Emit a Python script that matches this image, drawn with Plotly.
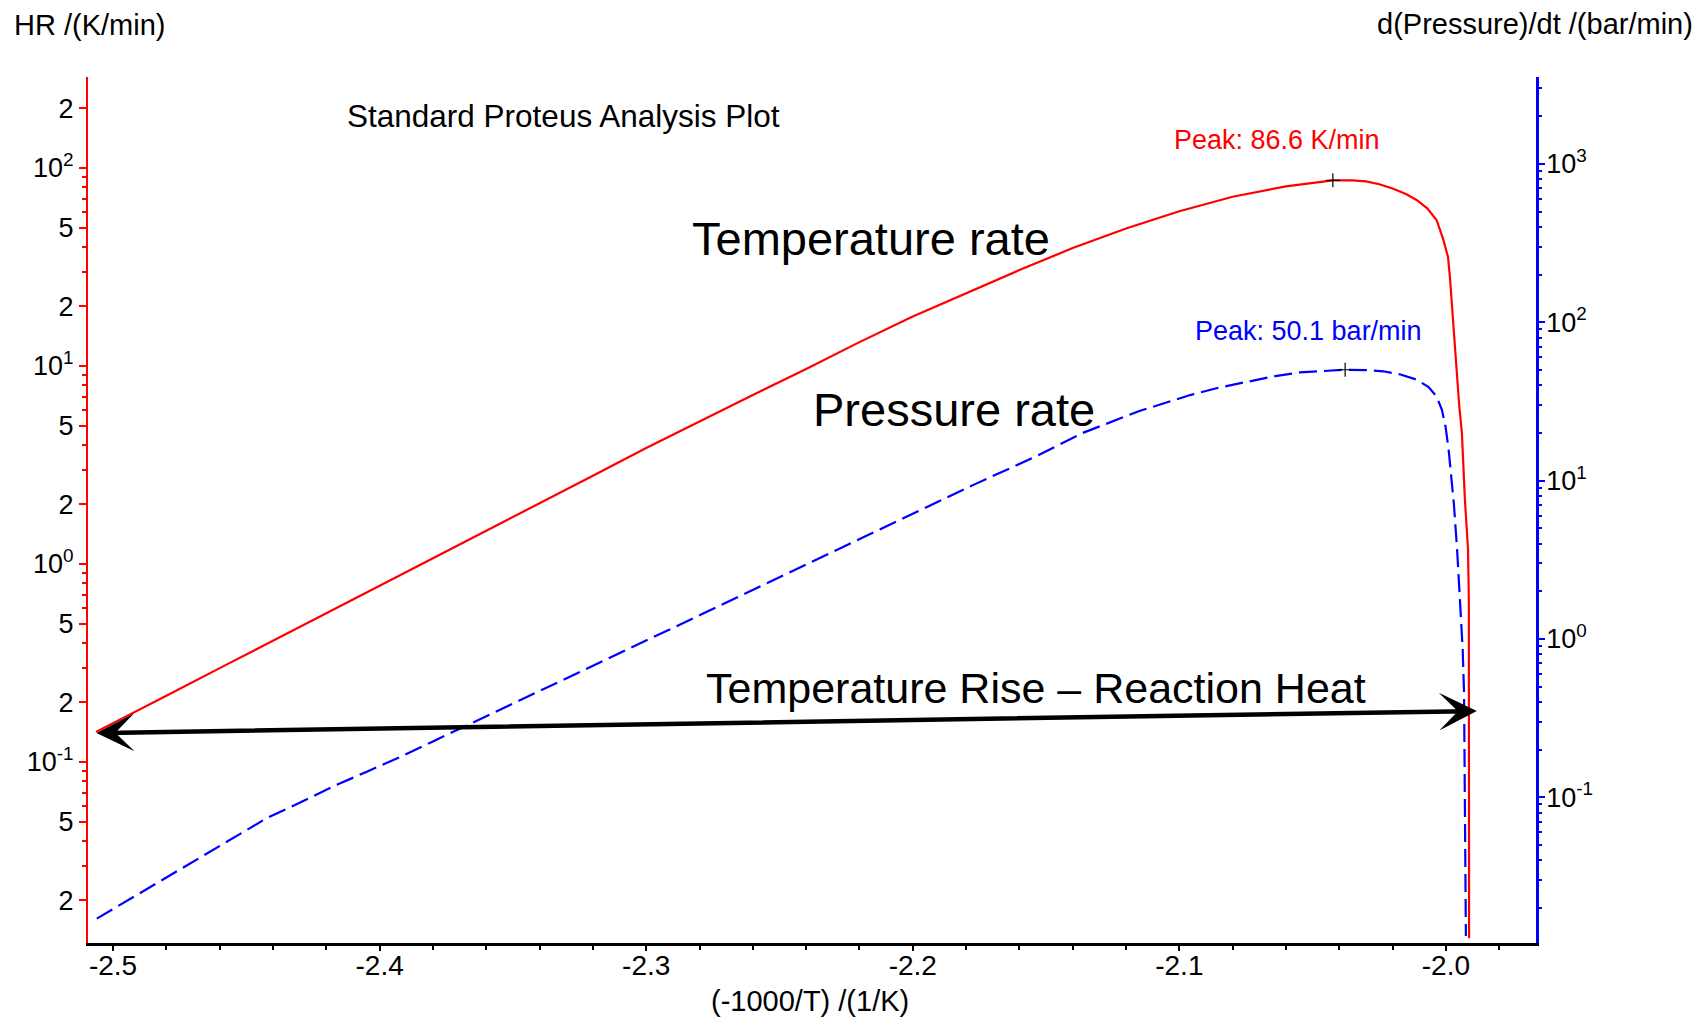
import math
import plotly.graph_objects as go

# ---- data -------------------------------------------------------------
# temperature rate (heat rate, K/min) versus -1000/T
inv_temp_hr = [-2.5064, -2.5000, -2.4800, -2.4600, -2.4400, -2.4200, -2.4000,
               -2.3800, -2.3600, -2.3400, -2.3200, -2.3000, -2.2800, -2.2600,
               -2.2400, -2.2200, -2.2000, -2.1800, -2.1600, -2.1400, -2.1200,
               -2.1000, -2.0800, -2.0600, -2.0500, -2.0424, -2.0350, -2.0300,
               -2.0250, -2.0200, -2.0150, -2.0110, -2.0070, -2.0035, -2.0010,
               -1.9992, -1.9985, -1.9979, -1.9970, -1.9962, -1.9950, -1.9940,
               -1.9929, -1.9917, -1.9914, -1.9913]
heat_rate = [0.142, 0.157, 0.216, 0.298, 0.409, 0.564, 0.776,
             1.07, 1.47, 2.03, 2.79, 3.85, 5.25, 7.13,
             9.66, 13.2, 17.8, 23.4, 30.5, 39.4, 49.5,
             60.5, 71.6, 80.7, 84.1, 86.6, 86.5, 85.5,
             82.8, 78.7, 73.8, 68.9, 62.5, 54.6, 43.6,
             35.5, 28.2, 21.5, 14.1, 9.9, 6.3, 4.6,
             2.15, 1.18, 0.66, 0.0129]

# pressure rate (bar/min) versus -1000/T
inv_temp_pr = [-2.5061, -2.4980, -2.4899, -2.4780, -2.4674, -2.4550, -2.4423,
               -2.4300, -2.4174, -2.4050, -2.3923, -2.3800, -2.3677, -2.3550,
               -2.3393, -2.3200, -2.2987, -2.2800, -2.2581, -2.2400, -2.2174,
               -2.2000, -2.1768, -2.1550, -2.1362, -2.1150, -2.0956, -2.0850,
               -2.0735, -2.0640, -2.0548, -2.0450, -2.0378, -2.0300, -2.0235,
               -2.0170, -2.0110, -2.0065, -2.0035, -2.0015, -2.0001, -1.9990,
               -1.9980, -1.9970, -1.9958, -1.9947, -1.9937, -1.9932, -1.9929,
               -1.9925]
pressure_rate = [0.0171, 0.0206, 0.0248, 0.0325, 0.0415, 0.0552, 0.0738,
                 0.0923, 0.117, 0.1445, 0.1795, 0.225, 0.2825, 0.357,
                 0.476, 0.676, 1.0, 1.41, 2.12, 2.96, 4.48,
                 6.17, 9.46, 13.9, 20.0, 27.5, 34.8, 38.7,
                 42.4, 45.7, 48.2, 49.6, 50.1, 49.9, 49.0,
                 46.8, 43.4, 39.0, 34.0, 28.0, 21.7, 15.8,
                 10.7, 7.1, 3.67, 1.77, 0.86, 0.46, 0.093,
                 0.0133]

peak_hr = (-2.0424, 86.6)
peak_pr = (-2.0378, 50.1)

# temperature-rise arrow end points (x, heat rate)
rise_start = (-2.5068, 0.140)
rise_end = (-1.9884, 0.181)

x_range = [-2.5094, -1.9662]
hr_range = [0.01219, 288.0]
pr_range = [0.0120, 3540.0]

x_tickvals = [-2.5, -2.4, -2.3, -2.2, -2.1, -2.0]
x_ticktext = ["-2.5", "-2.4", "-2.3", "-2.2", "-2.1", "-2.0"]

hr_tickvals = [0.02, 0.05, 0.1, 0.2, 0.5, 1, 2, 5, 10, 20, 50, 100, 200]
hr_ticktext = ["2", "5", "10<sup>-1</sup>", "2", "5", "10<sup>0</sup>", "2", "5",
               "10<sup>1</sup>", "2", "5", "10<sup>2</sup>", "2"]
hr_minor = [m * 10 ** e for e in range(-2, 3) for m in (3, 4, 6, 7, 8, 9)]

pr_tickvals = [0.1, 1, 10, 100, 1000]
pr_ticktext = ["10<sup>-1</sup>", "10<sup>0</sup>", "10<sup>1</sup>",
               "10<sup>2</sup>", "10<sup>3</sup>"]
pr_minor = [m * 10 ** e for e in range(-2, 4) for m in range(2, 10)]

# ---- styling ----------------------------------------------------------
W, H = 1698, 1018
PL, PR, PT, PB = 88, 1536, 77, 943
FONT = "Liberation Sans, Arial, sans-serif"
RED = "#FF0000"
BLUE = "#0000FF"


def px(x):
    return (x - PL) / (PR - PL)


def py(y):
    return (PB - y) / (PB - PT)


fig = go.Figure()

fig.add_trace(go.Scatter(
    x=inv_temp_hr, y=heat_rate, mode="lines",
    line=dict(color=RED, width=2.2), yaxis="y", hoverinfo="skip"))

fig.add_trace(go.Scatter(
    x=inv_temp_pr, y=pressure_rate, mode="lines",
    line=dict(color=BLUE, width=2.2, dash="18px,7px"), yaxis="y2",
    hoverinfo="skip"))

fig.add_trace(go.Scatter(
    x=[peak_hr[0]], y=[peak_hr[1]], mode="markers", yaxis="y",
    marker=dict(symbol="cross-thin", size=10, line=dict(color="black", width=1.2)),
    hoverinfo="skip"))
fig.add_trace(go.Scatter(
    x=[peak_pr[0]], y=[peak_pr[1]], mode="markers", yaxis="y2",
    marker=dict(symbol="cross-thin", size=10, line=dict(color="black", width=1.2)),
    hoverinfo="skip"))

annotations = [
    dict(text="HR /(K/min)", x=px(12), y=py(25), xanchor="left",
         font=dict(size=29)),
    dict(text="d(Pressure)/dt /(bar/min)", x=px(1695), y=py(24),
         xanchor="right", font=dict(size=29)),
    dict(text="(-1000/T) /(1/K)", x=px(810), y=py(1001), xanchor="center",
         font=dict(size=29)),
    dict(text="Standard Proteus Analysis Plot", x=px(563), y=py(116),
         xanchor="center", font=dict(size=31.5)),
    dict(text="Temperature rate", x=px(871), y=py(238), xanchor="center",
         font=dict(size=47)),
    dict(text="Pressure rate", x=px(954), y=py(409), xanchor="center",
         font=dict(size=47)),
    dict(text="Temperature Rise \u2013 Reaction Heat", x=px(1036), y=py(688),
         xanchor="center", font=dict(size=43)),
    dict(text=f"Peak: {peak_hr[1]:.1f} K/min", x=px(1277), y=py(140),
         xanchor="center", font=dict(size=27, color=RED)),
    dict(text=f"Peak: {peak_pr[1]:.1f} bar/min", x=px(1308), y=py(331),
         xanchor="center", font=dict(size=27, color=BLUE)),
]
for a in annotations:
    a.update(xref="paper", yref="paper", yanchor="middle", showarrow=False)
    a["font"].setdefault("color", "black")
    a["font"].setdefault("family", FONT)

# double-headed arrow spanning the temperature rise
annotations.append(dict(
    x=rise_end[0], y=math.log10(rise_end[1]), xref="x", yref="y",
    ax=rise_start[0], ay=math.log10(rise_start[1]), axref="x", ayref="y",
    text="", showarrow=True, arrowside="end+start",
    arrowhead=3, startarrowhead=3, arrowsize=1.4, startarrowsize=1.4,
    arrowwidth=4.5, arrowcolor="black"))

fig.update_layout(
    width=W, height=H, autosize=False,
    margin=dict(l=PL, r=W - PR, t=PT, b=H - PB, pad=0),
    paper_bgcolor="white", plot_bgcolor="white",
    showlegend=False,
    font=dict(family=FONT, size=27, color="black"),
    annotations=annotations,
    xaxis=dict(
        range=x_range, showgrid=False, zeroline=False,
        showline=True, linecolor="black", linewidth=2.5,
        tickmode="array", tickvals=x_tickvals, ticktext=x_ticktext,
        ticks="outside", ticklen=5, tickwidth=1.5, tickcolor="black",
        ticklabelstandoff=-9,
        tickfont=dict(size=28, family=FONT, color="black"),
        minor=dict(dtick=0.02, tick0=-2.5, ticks="outside", ticklen=4,
                   tickwidth=1.5, tickcolor="black"),
    ),
    yaxis=dict(
        type="log", range=[math.log10(v) for v in hr_range],
        showgrid=False, zeroline=False,
        showline=True, linecolor=RED, linewidth=2,
        tickmode="array", tickvals=hr_tickvals, ticktext=hr_ticktext,
        ticks="outside", ticklen=7, tickwidth=1.5, tickcolor=RED,
        ticklabelstandoff=0,
        tickfont=dict(size=27, family=FONT, color="black"),
        minor=dict(tickmode="array", tickvals=hr_minor, ticks="outside",
                   ticklen=4, tickwidth=1.5, tickcolor=RED),
    ),
    yaxis2=dict(
        type="log", range=[math.log10(v) for v in pr_range],
        overlaying="y", side="right", anchor="x",
        showgrid=False, zeroline=False,
        showline=True, linecolor=BLUE, linewidth=2.5,
        tickmode="array", tickvals=pr_tickvals, ticktext=pr_ticktext,
        ticks="outside", ticklen=6, tickwidth=1.5, tickcolor=BLUE,
        ticklabelstandoff=-4,
        tickfont=dict(size=27, family=FONT, color="black"),
        minor=dict(tickmode="array", tickvals=pr_minor, ticks="outside",
                   ticklen=3, tickwidth=1.5, tickcolor=BLUE),
    ),
)

fig.write_html("out.html")
